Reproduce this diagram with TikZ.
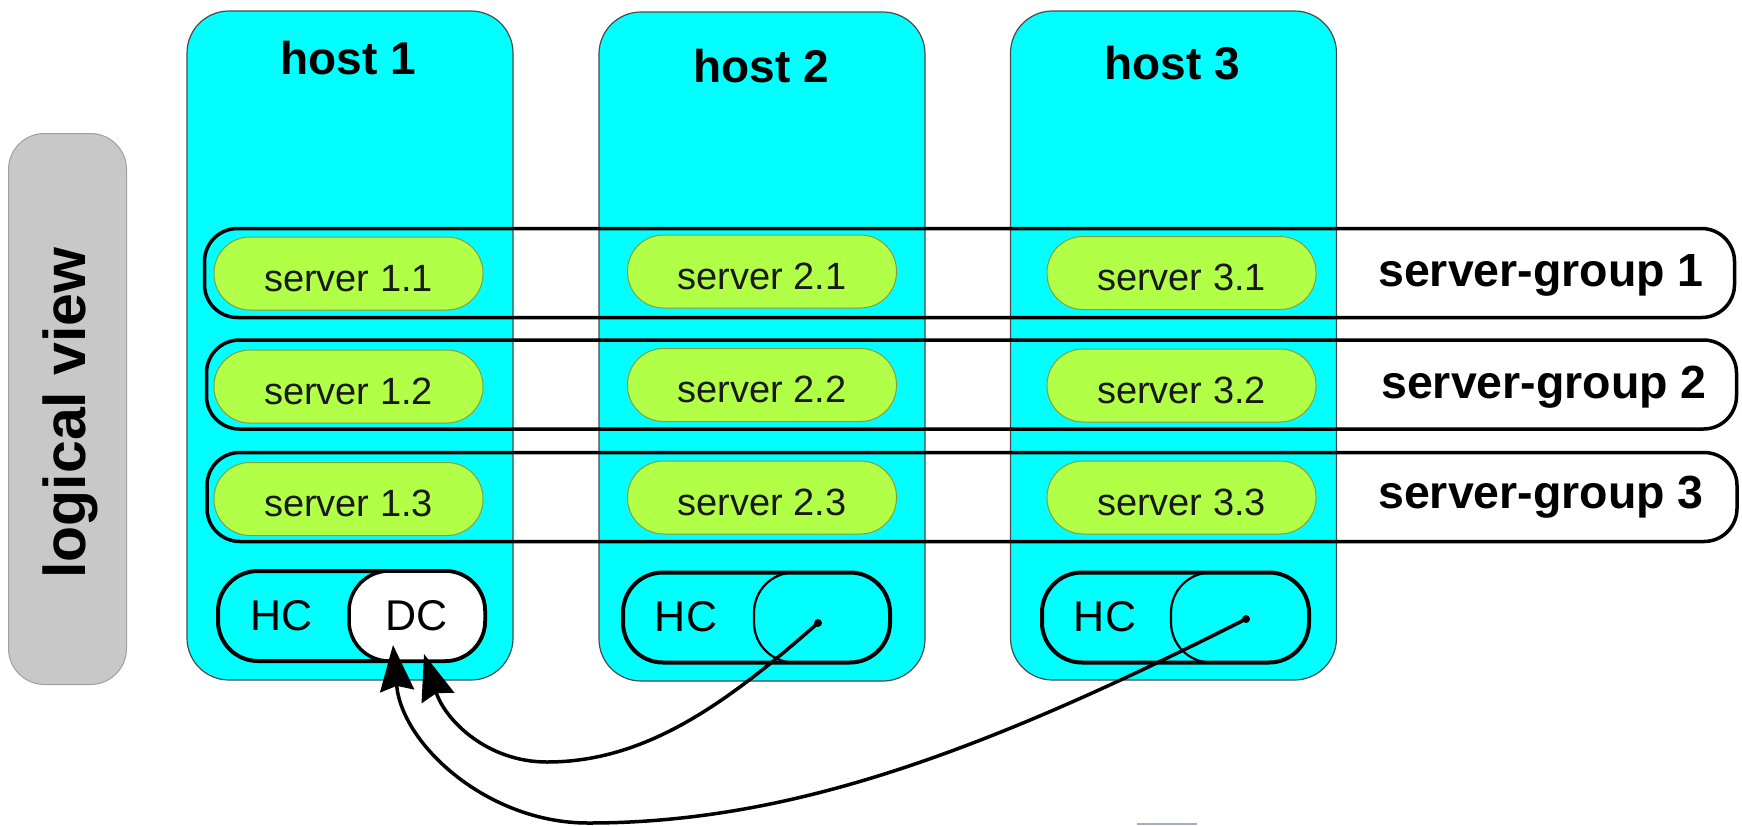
\documentclass[tikz,border=0pt]{standalone}
\usepackage{fontspec}
\setmainfont{Liberation Sans}
\usetikzlibrary{arrows.meta}
\definecolor{hostcyan}{HTML}{00FFFF}
\definecolor{hostline}{HTML}{4A4A4A}
\definecolor{srvgreen}{HTML}{B2FF48}
\definecolor{srvline}{HTML}{86A032}
\definecolor{lvgray}{HTML}{C8C8C8}
\definecolor{lvline}{HTML}{A0A0A0}
\definecolor{sliver}{HTML}{A3AFC4}
\begin{document}
\begin{tikzpicture}[x=1pt,y=-1pt,
  hostbox/.style={draw=hostline, line width=1.2pt, fill=hostcyan, rounded corners=42pt, minimum width=326pt, minimum height=669pt, inner sep=0pt},
  hosttitle/.style={font=\fontsize{46}{50}\selectfont\bfseries, inner sep=0pt},
  groupbox/.style={draw=black, line width=3.5pt, rounded corners=33pt, minimum width=1530pt, minimum height=89pt, inner sep=0pt},
  grouplabel/.style={font=\fontsize{46.5}{50}\selectfont\bfseries, inner sep=0pt},
  srvpill/.style={draw=srvline, line width=1pt, fill=srvgreen, rounded corners=36pt, minimum width=269pt, minimum height=73pt, inner sep=0pt, text height=35pt, text depth=0pt, font=\fontsize{38}{42}\selectfont, text=black!90},
  capsule/.style={draw=black, line width=4pt, fill=hostcyan, rounded corners=40pt, minimum width=267pt, minimum height=90pt, inner sep=0pt},
  dcpill/.style={draw=black, line width=3.5pt, rounded corners=40pt, minimum height=90pt, inner sep=0pt},
  ctext/.style={font=\fontsize{43}{46}\selectfont, inner sep=0pt},
  dotnode/.style={circle, fill=black, minimum size=8pt, inner sep=0pt},
  conn/.style={line width=3.5pt, -{Stealth[length=46pt, width=34pt, inset=5pt]}}
]
\useasboundingbox (0,0) rectangle (1742,825);

% logical view side label
\node[draw=lvline, line width=1pt, fill=lvgray, rounded corners=36pt, minimum width=118pt, minimum height=551pt, inner sep=0pt] (lv) at (67.5,409) {};
\node[rotate=90, font=\fontsize{59}{62}\selectfont\bfseries, inner sep=0pt] (lvt) at (70,413) {logical view};

% hosts
\node[hostbox] (h1) at (350,345.5) {};
\node[hostbox] (h2) at (762,346.5) {};
\node[hostbox] (h3) at (1173.5,345.5) {};
\node[hosttitle] (t1) at (348,58) {host 1};
\node[hosttitle] (t2) at (761,66) {host 2};
\node[hosttitle] (t3) at (1172,63) {host 3};

% server groups
\node[groupbox] (g1) at (969.5,273) {};
\node[groupbox] (g2) at (971.5,384.5) {};
\node[groupbox] (g3) at (972,497) {};
\node[grouplabel] (gl1) at (1541,275.5) {server-group 1};
\node[grouplabel] (gl2) at (1544,387.5) {server-group 2};
\node[grouplabel] (gl3) at (1541,497) {server-group 3};

% servers
\node[srvpill] (s11) at (348.5,273.5) {server 1.1};
\node[srvpill] (s12) at (348.5,386.5) {server 1.2};
\node[srvpill] (s13) at (348.5,499) {server 1.3};
\node[srvpill] (s21) at (762,271.5) {server 2.1};
\node[srvpill] (s22) at (762,385) {server 2.2};
\node[srvpill] (s23) at (762,497.5) {server 2.3};
\node[srvpill] (s31) at (1181.5,273) {server 3.1};
\node[srvpill] (s32) at (1181.5,385.5) {server 3.2};
\node[srvpill] (s33) at (1181.5,497.5) {server 3.3};

% HC / DC capsules
\node[capsule] (c1) at (351.5,616) {};
\node[dcpill, fill=white, minimum width=136pt] (dc) at (417,616) {};
\node[ctext] (hc1) at (282,616) {HC};
\node[ctext] (dct) at (417,616) {DC};

\node[capsule] (c2) at (756.5,617.5) {};
\node[dcpill, line width=2.2pt, minimum width=136pt] (i2) at (822,617.5) {};
\node[ctext] (hc2) at (686,617) {HC};

\node[capsule] (c3) at (1175.5,617.5) {};
\node[dcpill, line width=2.2pt, minimum width=138pt] (i3) at (1240,617.5) {};
\node[ctext] (hc3) at (1105,617) {HC};

\node[dotnode] (d2) at (818,623) {};
\node[dotnode] (d3) at (1246,619) {};

% connectors
\coordinate (b2) at (547,762);
\coordinate (tip2) at (424,654);
\coordinate (b3) at (588,823);
\coordinate (tip3) at (393,645);
\draw[conn] (d2.center) .. controls (728,702) and (647,762) .. (b2)
  .. controls (487,762) and (445,720) .. (tip2);
\draw[conn] (d3.center) .. controls (979,754) and (788,823) .. (b3)
  .. controls (488,823) and (402,745) .. (tip3);

% sliver at bottom edge
\fill[sliver] (1137,822.5) rectangle (1197,825);
\end{tikzpicture}
\end{document}
